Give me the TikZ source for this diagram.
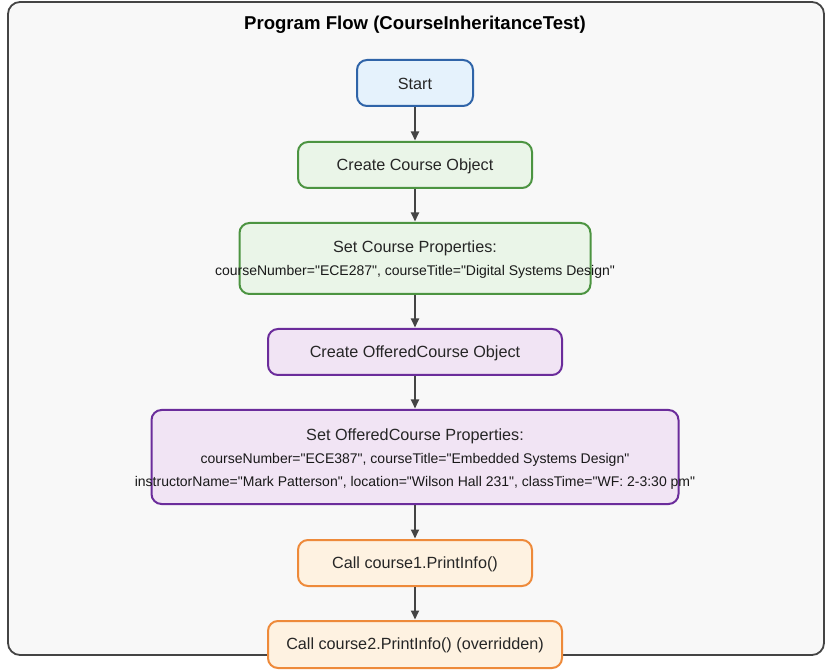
\documentclass[tikz,border=0pt]{standalone}
\usepackage{fontspec}
\setmainfont{Liberation Sans}[Ligatures=TeXOff]
\usetikzlibrary{arrows.meta}
\definecolor{bgc}{HTML}{F8F8F8}
\definecolor{framec}{HTML}{444444}
\definecolor{arrc}{HTML}{444444}
\definecolor{bluef}{HTML}{E5F2FC}
\definecolor{blues}{HTML}{2F64A8}
\definecolor{greenf}{HTML}{EAF5E8}
\definecolor{greens}{HTML}{4C9441}
\definecolor{purplef}{HTML}{F1E4F4}
\definecolor{purples}{HTML}{6B2C9B}
\definecolor{orangef}{HTML}{FEF2E1}
\definecolor{oranges}{HTML}{EE8A3A}
\tikzset{
  box/.style={draw, line width=2pt, rounded corners=10pt, inner sep=0pt},
  bluebox/.style={box, fill=bluef, draw=blues},
  greenbox/.style={box, fill=greenf, draw=greens},
  purplebox/.style={box, fill=purplef, draw=purples},
  orangebox/.style={box, fill=orangef, draw=oranges},
  big/.style={font=\fontsize{16.2}{19}\selectfont, text=black!85, inner sep=0pt},
  small/.style={font=\fontsize{14}{16}\selectfont, text=black!90, inner sep=0pt},
  flow/.style={draw=arrc, line width=2pt, -{Triangle[length=9pt,width=8pt]}, shorten >=0.5pt},
}
\begin{document}
\begin{tikzpicture}[x=1pt,y=-1pt]
\useasboundingbox (0,0) rectangle (831,671);
\fill[white] (0,0) rectangle (831,671);
\draw[fill=bgc, draw=framec, line width=1.8pt, rounded corners=12pt] (8,2) rectangle (824,655);
\node[font=\bfseries\fontsize{18.6}{21}\selectfont, inner sep=0pt] (title) at (415,25) {Program Flow (CourseInheritanceTest)};

\node[bluebox, minimum width=116, minimum height=46] (start) at (415,83) {};
\node[big] (startt) at (415,84) {Start};

\node[greenbox, minimum width=234, minimum height=46] (cco) at (415,165) {};
\node[big] (ccot) at (415,166) {Create Course Object};

\node[greenbox, minimum width=351, minimum height=71] (scp) at (415,258.5) {};
\node[big] (scpt1) at (415,248) {Set Course Properties:};
\node[small] (scpt2) at (415,272) {courseNumber="ECE287", courseTitle="Digital Systems Design"};

\node[purplebox, minimum width=294, minimum height=46] (coc) at (415,352) {};
\node[big] (coct) at (415,353) {Create OfferedCourse Object};

\node[purplebox, minimum width=527, minimum height=94] (soc) at (415,457) {};
\node[big] (soct1) at (415,436) {Set OfferedCourse Properties:};
\node[small] (soct2) at (415,460) {courseNumber="ECE387", courseTitle="Embedded Systems Design"};
\node[small] (soct3) at (415,483) {instructorName="Mark Patterson", location="Wilson Hall 231", classTime="WF: 2-3:30 pm"};

\node[orangebox, minimum width=234, minimum height=46] (c1) at (415,563) {};
\node[big] (c1t) at (415,564) {Call course1.PrintInfo()};

\node[orangebox, minimum width=294, minimum height=47] (c2) at (415,644.5) {};
\node[big] (c2t) at (415,645.5) {Call course2.PrintInfo() (overridden)};

\draw[flow] (start.south) -- (cco.north);
\draw[flow] (cco.south) -- (scp.north);
\draw[flow] (scp.south) -- (coc.north);
\draw[flow] (coc.south) -- (soc.north);
\draw[flow] (soc.south) -- (c1.north);
\draw[flow] (c1.south) -- (c2.north);
\end{tikzpicture}
\end{document}
